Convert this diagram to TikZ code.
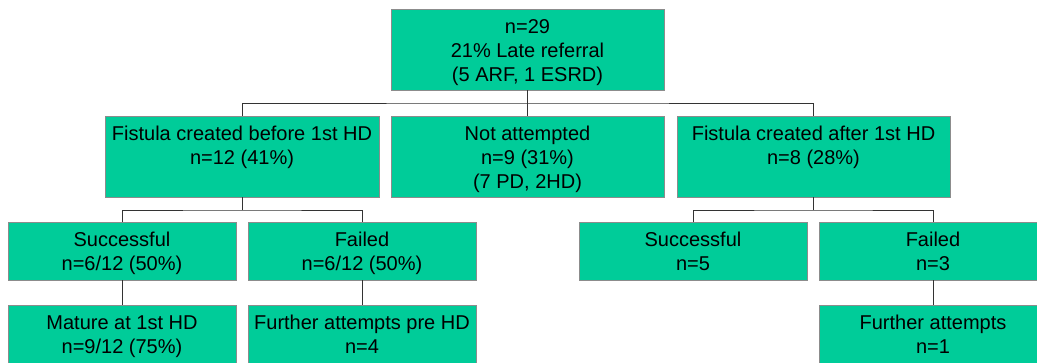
\documentclass[tikz,border=0pt]{standalone}
\usepackage{fontspec}
\setmainfont{Liberation Sans}
\usepackage{xcolor}
\definecolor{boxfill}{HTML}{00CC99}
\definecolor{boxline}{HTML}{8C8C8C}
\definecolor{wire}{HTML}{333333}
\newcommand{\boxrows}[1]{\begin{tabular}[t]{@{}c@{}}#1\end{tabular}}

\begin{document}
\begin{tikzpicture}[x=1pt,y=-1pt,
		box/.style={rectangle,draw=boxline,line width=1pt,fill=boxfill,anchor=north,
			inner sep=0pt,outer sep=0pt,text height=24pt,font=\fontsize{20}{24}\selectfont},
		tall/.style={text depth=57pt,minimum width=273pt},
		short/.style={text depth=34pt,minimum width=228pt},
		wire/.style={draw=wire,line width=1pt}]
				\useasboundingbox (0,0) rectangle (1037,362);
				\clip (0,0) rectangle (1037,362);
				
				\node(root) at (527.5,9)[box,tall]{\boxrows{n=29\\21\% Late referral\\(5 ARF, 1 ESRD)}};
				
				\node(before) at (242,116)[box,tall,minimum width=274pt]{\boxrows{Fistula created before 1st HD\\n=12 (41\%)}};
				\node(notatt) at (527.5,116)[box,tall]{\boxrows{Not attempted\\n=9 (31\%)\\(7 PD, 2HD)}};
				\node(after) at (813.5,116)[box,tall]{\boxrows{Fistula created after 1st HD\\n=8 (28\%)}};
				
				\node(succA) at (122,222)[box,short]{\boxrows{Successful\\n=6/12 (50\%)}};
				\node(failA) at (362,222)[box,short]{\boxrows{Failed\\n=6/12 (50\%)}};
				\node(succB) at (693,222)[box,short]{\boxrows{Successful\\n=5}};
				\node(failB) at (933,222)[box,short]{\boxrows{Failed\\n=3}};
				
				\node(matA) at (122,305)[box,short]{\boxrows{Mature at 1st HD\\n=9/12 (75\%)}};
				\node(furA) at (362,305)[box,short]{\boxrows{Further attempts pre HD\\n=4}};
				\node(furB) at (933,305)[box,short]{\boxrows{Further attempts\\n=1}};
				
				\coordinate(bus) at (527.5,103);
				\coordinate(busA) at (242,210);
				\coordinate(busB) at (813.5,210);
				
				\draw[wire] (root) to (notatt);
				\draw[wire] (before.north) |- (bus) -| (after.north);
				\draw[wire] (before) to (busA);
				\draw[wire] (succA.north) |- (busA) -| (failA.north);
				\draw[wire] (after) to (busB);
				\draw[wire] (succB.north) |- (busB) -| (failB.north);
				\draw[wire] (succA) to (matA);
				\draw[wire] (failA) to (furA);
				\draw[wire] (failB) to (furB);
				
			\end{tikzpicture}
\end{document}
